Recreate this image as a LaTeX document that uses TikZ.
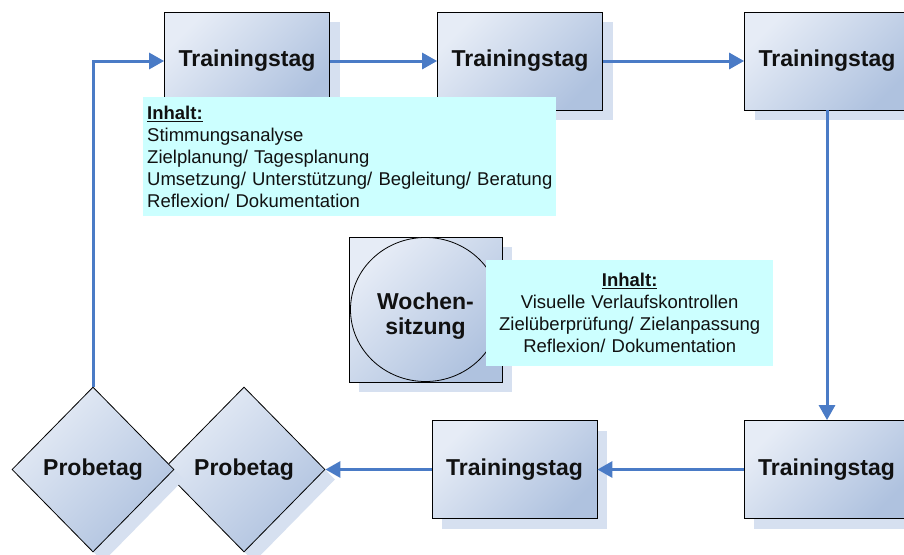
\documentclass[tikz,border=0pt]{standalone}
\usepackage{fontspec}
\setmainfont{Liberation Sans}
\usetikzlibrary{arrows.meta,shapes.geometric,shadows}
\definecolor{boxlight}{HTML}{E6ECF6}
\definecolor{boxdark}{HTML}{AFC2DF}
\definecolor{shadowc}{HTML}{D6E0F0}
\definecolor{calloutc}{HTML}{CCFFFF}
\definecolor{flowc}{HTML}{4A7BC6}
\definecolor{textc}{HTML}{111111}
\tikzset{
  gradfill/.style={top color=boxlight, bottom color=boxdark, shading angle=45},
  boxshadow/.style={general shadow={shadow xshift=10pt, shadow yshift=-10pt, fill=shadowc}},
  bigfont/.style={font=\fontsize{23}{26}\selectfont\bfseries, text=textc},
  daybox/.style={draw=black, line width=0.8pt, gradfill, boxshadow, minimum width=165pt,
    minimum height=98pt, inner sep=0pt, bigfont},
  testday/.style={diamond, draw=black, line width=0.8pt, gradfill, boxshadow, minimum width=162pt,
    minimum height=165pt, inner sep=0pt, bigfont},
  weekbox/.style={draw=black, line width=0.8pt, gradfill, boxshadow, minimum width=153pt,
    minimum height=145pt, inner sep=0pt},
  weekcircle/.style={ellipse, draw=black, line width=0.8pt, gradfill, minimum width=150pt,
    minimum height=144pt, inner sep=0pt, bigfont, align=center},
  callout/.style={fill=calloutc, font=\fontsize{18.5}{22}\selectfont, text=textc,
    inner ysep=0pt, inner xsep=4pt},
  flow/.style={draw=flowc, line width=3pt, -{Triangle[length=15pt,width=16pt]}},
}
\begin{document}
\begin{tikzpicture}[x=1pt,y=-1pt]
\clip (0,0) rectangle (904,554);
\fill[white] (0,0) rectangle (904,554);
% boxes
\node[daybox] (t1) at (247,61) {Trainingstag};
\node[daybox] (t2) at (520,61) {Trainingstag};
\node[daybox] (t3) at (827,61) {Trainingstag};
\node[daybox] (t5) at (826.5,469.5) {Trainingstag};
\node[daybox] (t4) at (514.5,469.5) {Trainingstag};
\node[testday] (d2) at (244,469.5) {Probetag};
\node[testday] (d1) at (93,469.5) {Probetag};
% weekly meeting
\node[weekbox] (w) at (425.5,309.5) {};
\node[weekcircle] (wc) at (425.5,309.5) {\rule{0pt}{29pt}Wochen-\\[-1pt]sitzung};
% connectors
\draw[flow] (d1.north) |- (t1.west);
\draw[flow] (t1.east) -- (t2.west);
\draw[flow] (t2.east) -- (t3.west);
\draw[flow] (t3.south) -- (t3.south |- t5.north);
\draw[flow] (t5.west) -- (t4.east);
\draw[flow] (t4.west) -- (d2.east);
% callouts
\node[callout, anchor=north west, text width=405pt, minimum height=119pt, align=left] (c1) at (143,97)
  {\underline{\textbf{Inhalt:}}\\
   \mbox{Stimmungsanalyse}\\
   \mbox{Zielplanung/ Tagesplanung}\\
   \mbox{Umsetzung/ Unterstützung/ Begleitung/ Beratung}\\
   \mbox{Reflexion/ Dokumentation}};
\node[callout, anchor=north west, text width=279pt, minimum height=106pt, align=center] (c2) at (486,260)
  {\underline{\textbf{Inhalt:}}\\
   Visuelle Verlaufskontrollen\\
   Zielüberprüfung/ Zielanpassung\\
   Reflexion/ Dokumentation};
\end{tikzpicture}
\end{document}
